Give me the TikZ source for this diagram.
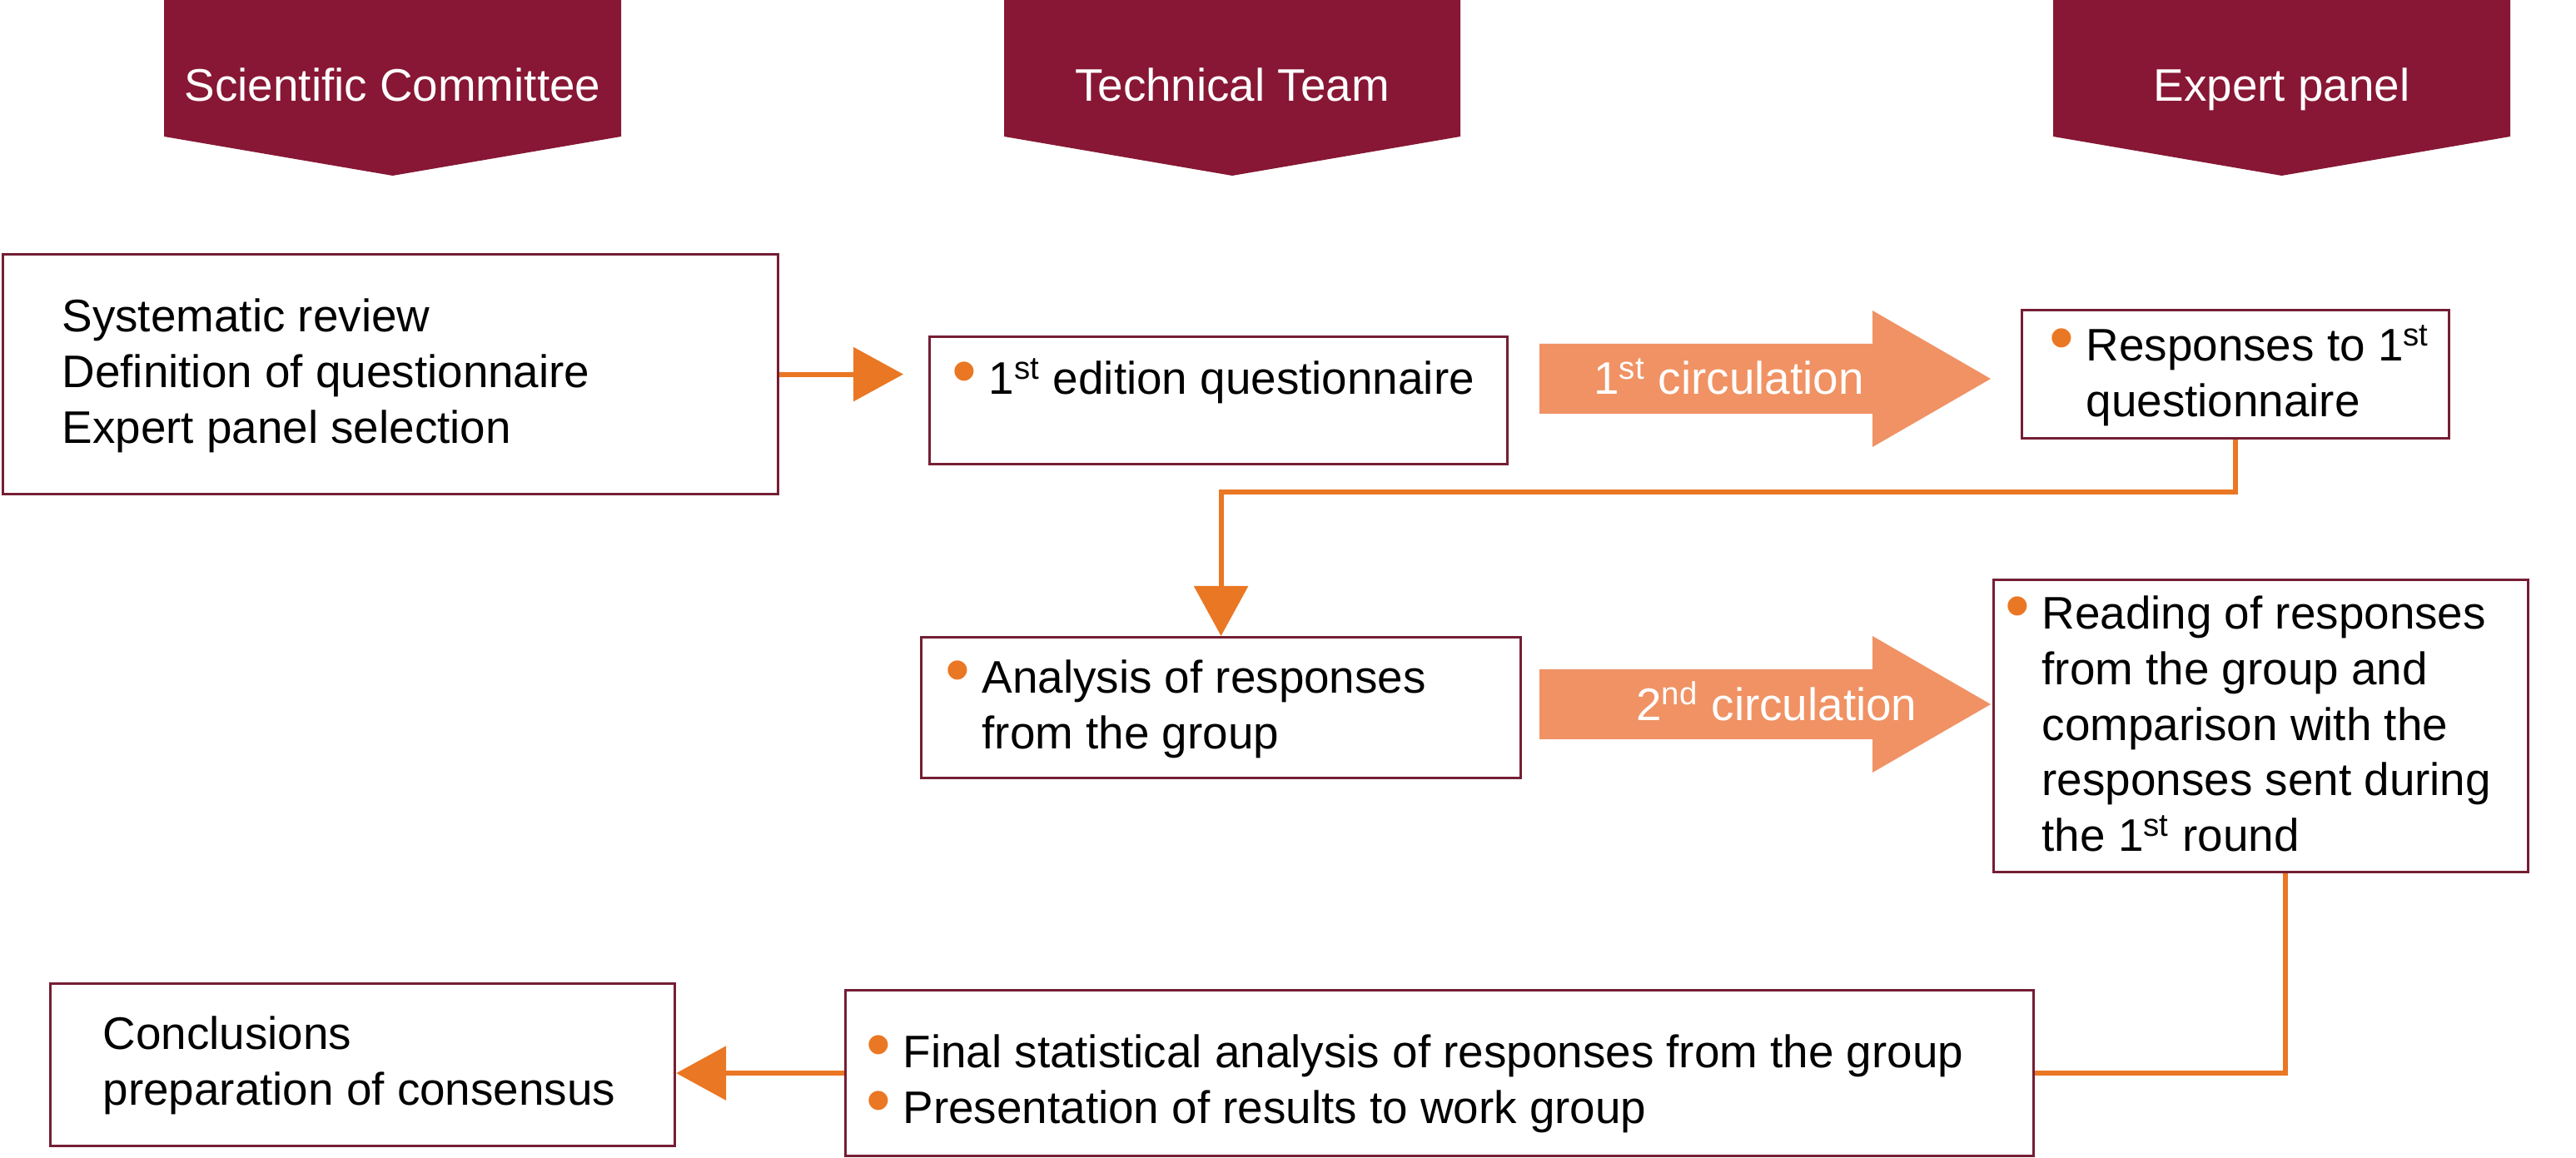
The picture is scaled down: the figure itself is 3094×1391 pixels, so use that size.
\documentclass[tikz,border=0pt]{standalone}
\usepackage{fontspec}
\setmainfont{Liberation Sans}
\usepackage{graphicx}
\usetikzlibrary{calc,positioning,arrows.meta}
\definecolor{HeadRed}{RGB}{135,23,52}
\definecolor{BoxLine}{RGB}{117,30,52}
\definecolor{FlowOrange}{RGB}{234,119,35}
\definecolor{CircSalmon}{RGB}{240,146,100}
\newcommand{\bul}{\leavevmode\llap{\smash{\textcolor{FlowOrange}{\raisebox{-.02em}{\scalebox{1.55}{\textbullet}}}}\hspace{1.4mm}}}
% left padding, then the lines of a stage box
\newcommand{\stagetext}[3]{\hspace*{#1}\parbox[t]{#2}{\raggedright#3}}

\begin{document}
\begin{tikzpicture}[x=0.1mm,y=-0.1mm,
  stage/.style={draw=BoxLine,line width=0.9pt,anchor=north west,inner xsep=0pt,inner ysep=0pt,font=\fontsize{15.6}{19}\selectfont},
  head/.style={text=white,anchor=base,font=\fontsize{15.6}{19}\selectfont},
  circ/.style={text=white,anchor=base west,font=\fontsize{15.6}{19}\selectfont},
  wire/.style={FlowOrange,line width=1.7pt},
  arrowed/.style={-{Triangle[length=6mm,width=6.4mm]}}]
  \useasboundingbox (0,0) rectangle (3094,1391);

  % column headers
  \foreach \xa/\xb/\nm/\title in {197/746/hdSci/Scientific Committee, 1206/1754/hdTech/Technical Team, 2466/3015/hdExp/Expert panel} {
    \fill[HeadRed] (\xa,0) -- (\xb,0) -- (\xb,164) -- ({(\xa+\xb)/2},211) -- (\xa,164) -- cycle;
    \node[head] (\nm) at ({(\xa+\xb)/2},122) {\title};
  }

  % stages
  \node[stage,text height=9.3mm,text depth=19.5mm] (boxA) at (2,304)
    {\stagetext{7.1mm}{86.0mm}{Systematic review\\Definition of questionnaire\\Expert panel selection}};
  \node[stage,text height=6.9mm,text depth=8.4mm] (boxB) at (1115,403)
    {\stagetext{7.1mm}{62.3mm}{\bul 1\textsuperscript{st} edition questionnaire}};
  \node[stage,text height=6.1mm,text depth=9.3mm] (boxC) at (2427,371)
    {\stagetext{7.7mm}{43.6mm}{\bul Responses to 1\textsuperscript{st}\\questionnaire}};
  \node[stage,text height=6.7mm,text depth=10.2mm] (boxD) at (1105,764)
    {\stagetext{7.3mm}{64.7mm}{\bul Analysis of responses\\from the group}};
  \node[stage,text height=5.9mm,text depth=29.2mm] (boxE) at (2393,695)
    {\stagetext{5.8mm}{58.4mm}{\bul Reading of responses\\from the group and\\comparison with the\\responses sent during\\the 1\textsuperscript{st} round}};
  \node[stage,text height=9.3mm,text depth=10.6mm] (boxF) at (1014,1188)
    {\stagetext{6.9mm}{135.8mm}{\bul Final statistical analysis of responses from the group\\\bul Presentation of results to work group}};
  \node[stage,text height=7.9mm,text depth=11.6mm] (boxG) at (59,1180)
    {\stagetext{6.3mm}{68.7mm}{Conclusions\\preparation of consensus}};

  % circulation arrows
  \foreach \yc/\nm/\tx/\txt in {455/circA/1902/{1\textsuperscript{st} circulation}, 846/circB/1953/{2\textsuperscript{nd} circulation}} {
    \fill[CircSalmon] (1849,\yc-42) -- (2249,\yc-42) -- (2249,\yc-82) -- (2391,\yc) -- (2249,\yc+82) -- (2249,\yc+42) -- (1849,\yc+42) -- cycle;
    \node[circ] (\nm) at (\tx,\yc+19) {\txt};
  }

  % connectors
  \draw[wire,arrowed,shorten >=3mm] (boxA.east) -- (boxA.east -| boxB.west);
  \draw[wire,arrowed] (boxC.south) -- ++(0,63) -| (boxD.north);
  \draw[wire] ([xshift=2.9mm]boxE.south) |- (boxF.east);
  \draw[wire,arrowed] (boxF.west) -- (boxF.west -| boxG.east);
\end{tikzpicture}
\end{document}
